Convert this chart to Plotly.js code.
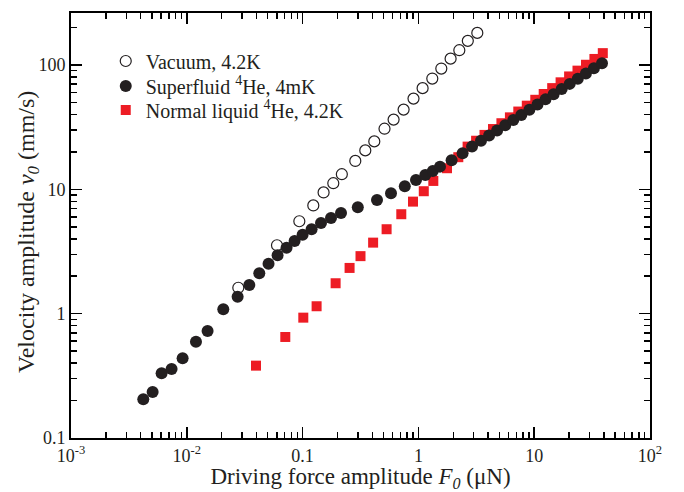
<!DOCTYPE html>
<html>
<head>
<meta charset="utf-8">
<script src="https://cdn.plot.ly/plotly-3.0.1.min.js"></script>
<style>html,body{margin:0;padding:0;background:#fff;}#chart{width:684px;height:492px;}</style>
</head>
<body>
<div id="chart"></div>
<script>
// Vacuum, 4.2K
var vacuumF = [0.02785, 0.0601, 0.0937, 0.1237, 0.1518, 0.1841, 0.2182, 0.2851, 0.3478, 0.416, 0.5097, 0.6106, 0.7451, 0.9072, 1.087, 1.318, 1.577, 1.897, 2.256, 2.671, 3.226];
var vacuumV = [1.616, 3.55, 5.538, 7.42, 9.44, 11.2, 13.23, 16.92, 20.56, 24.29, 30.73, 36.37, 43.77, 53.65, 65.09, 77.74, 93.55, 112.4, 131.5, 156.3, 181.2];

// Superfluid 4He, 4mK
var superF = [0.00421, 0.00507, 0.00606, 0.00739, 0.0092, 0.0120, 0.01512, 0.02066, 0.02747, 0.03465, 0.04227, 0.0508, 0.0608, 0.0727, 0.0853, 0.1, 0.1196, 0.1442, 0.1759, 0.2146, 0.2997, 0.439, 0.58, 0.763, 0.9534, 1.147, 1.332, 1.536, 1.935, 2.408, 2.904,
  3.472, 4.078, 4.782, 5.618, 6.599, 7.739, 9.09, 10.68, 12.52, 14.71, 17.28, 20.26, 23.8, 27.96, 32.78, 38.5];
var superV = [0.2047, 0.2344, 0.3315, 0.359, 0.4377, 0.595, 0.726, 1.085, 1.37, 1.702, 2.113, 2.52, 2.955, 3.396, 3.845, 4.313, 4.775, 5.366, 5.888, 6.458, 7.178, 8.218, 9.3, 10.59, 11.9, 13.06, 14.06, 15.22, 17.15, 19.52, 22.05,
  24.56, 27.04, 29.72, 32.73, 36.04, 39.65, 43.65, 48.07, 52.89, 58.23, 64.12, 70.46, 77.6, 85.43, 93.98, 103.4];

// Normal liquid 4He, 4.2K
var normalF = [0.0396, 0.0709, 0.1014, 0.1321, 0.1928, 0.2545, 0.3162, 0.4064, 0.5314, 0.7116, 0.8983, 1.113, 1.345, 1.766, 2.211, 2.66,
  3.15, 3.722, 4.409, 5.21, 6.169, 7.29, 8.631, 10.22, 12.08, 14.3, 16.9, 20.02, 23.65, 28.01, 33.11, 39.12];
var normalV = [0.3818, 0.6494, 0.9287, 1.147, 1.756, 2.332, 2.901, 3.726, 4.775, 6.305, 7.962, 9.654, 11.68, 14.78, 18.13, 22.05,
  24.59, 27.39, 30.53, 34.0, 37.91, 42.21, 47.07, 52.48, 58.43, 65.15, 72.53, 80.87, 90.04, 100.4, 111.8, 124.5];

var seriesNames = ['Vacuum, 4.2K', 'Superfluid <sup>4</sup>He, 4mK', 'Normal liquid <sup>4</sup>He, 4.2K'];

var xTickVals = [0.001, 0.01, 0.1, 1, 10, 100];
var xTickText = ['10<sup>-3</sup>', '10<sup>-2</sup>', '0.1', '1', '10', '10<sup>2</sup>'];
var yTickVals = [0.1, 1, 10, 100];
var yTickText = ['0.1', '1', '10', '100'];

var xTitle = 'Driving force amplitude <i>F<sub>0</sub></i> (μN)';
var yTitle = 'Velocity amplitude <i>v<sub>0</sub></i> (mm/s)';

function minorTicks(lo, hi) {
  var out = [];
  for (var e = lo; e <= hi; e++) {
    for (var d = 2; d <= 9; d++) out.push(d * Math.pow(10, e));
  }
  return out;
}

var FONT = 'Liberation Serif, Times New Roman, serif';
var INK = '#231f20';

var traces = [
  {x: vacuumF, y: vacuumV, type: 'scatter', mode: 'markers', name: seriesNames[0], legend: 'legend',
   marker: {symbol: 'circle-open', size: 11, color: INK, line: {width: 1.2, color: INK}}},
  {x: normalF, y: normalV, type: 'scatter', mode: 'markers', name: seriesNames[2], legend: 'legend3',
   marker: {symbol: 'square', size: 10, color: '#ed1c24', line: {width: 0}}},
  {x: superF, y: superV, type: 'scatter', mode: 'markers', name: seriesNames[1], legend: 'legend2',
   marker: {symbol: 'circle', size: 12, color: INK, line: {width: 0}}}
];

var axisCommon = {
  type: 'log', showgrid: false, zeroline: false, showline: true, linecolor: '#000', linewidth: 2,
  mirror: 'allticks', ticks: 'inside', ticklen: 11, tickwidth: 1.5, tickcolor: '#000',
  tickfont: {family: FONT, size: 18, color: INK}
};

function legendAt(py) {
  return {x: 0.06, y: 1 - (py - 13) / 425, xanchor: 'left', yanchor: 'middle', bgcolor: 'rgba(0,0,0,0)',
          borderwidth: 0, font: {family: FONT, size: 20, color: INK}, itemwidth: 30};
}

var layout = {
  width: 684, height: 492,
  margin: {l: 71, r: 34, t: 13, b: 54},
  paper_bgcolor: '#fff', plot_bgcolor: '#fff',
  showlegend: true,
  legend: legendAt(61),
  legend2: legendAt(86),
  legend3: legendAt(110),
  xaxis: Object.assign({}, axisCommon, {
    range: [-3, 2], tickmode: 'array', tickvals: xTickVals, ticktext: xTickText,
    minor: {tickmode: 'array', tickvals: minorTicks(-3, 1), ticks: 'inside', ticklen: 6, tickwidth: 1.5, tickcolor: '#000'},
    title: {text: xTitle, font: {family: FONT, size: 23, color: INK}, standoff: 3}
  }),
  yaxis: Object.assign({}, axisCommon, {
    range: [-1, 2.418], tickmode: 'array', tickvals: yTickVals, ticktext: yTickText,
    minor: {tickmode: 'array', tickvals: minorTicks(-1, 2), ticks: 'inside', ticklen: 6, tickwidth: 1.5, tickcolor: '#000'}
  }),
  annotations: [{
    text: yTitle, xref: 'paper', yref: 'paper', x: (28 - 71) / 579, y: 1 - (232 - 13) / 425,
    xanchor: 'center', yanchor: 'middle', textangle: -90, showarrow: false,
    font: {family: FONT, size: 24, color: INK}
  }]
};

Plotly.newPlot('chart', traces, layout, {displayModeBar: false, staticPlot: true});
</script>
</body>
</html>
